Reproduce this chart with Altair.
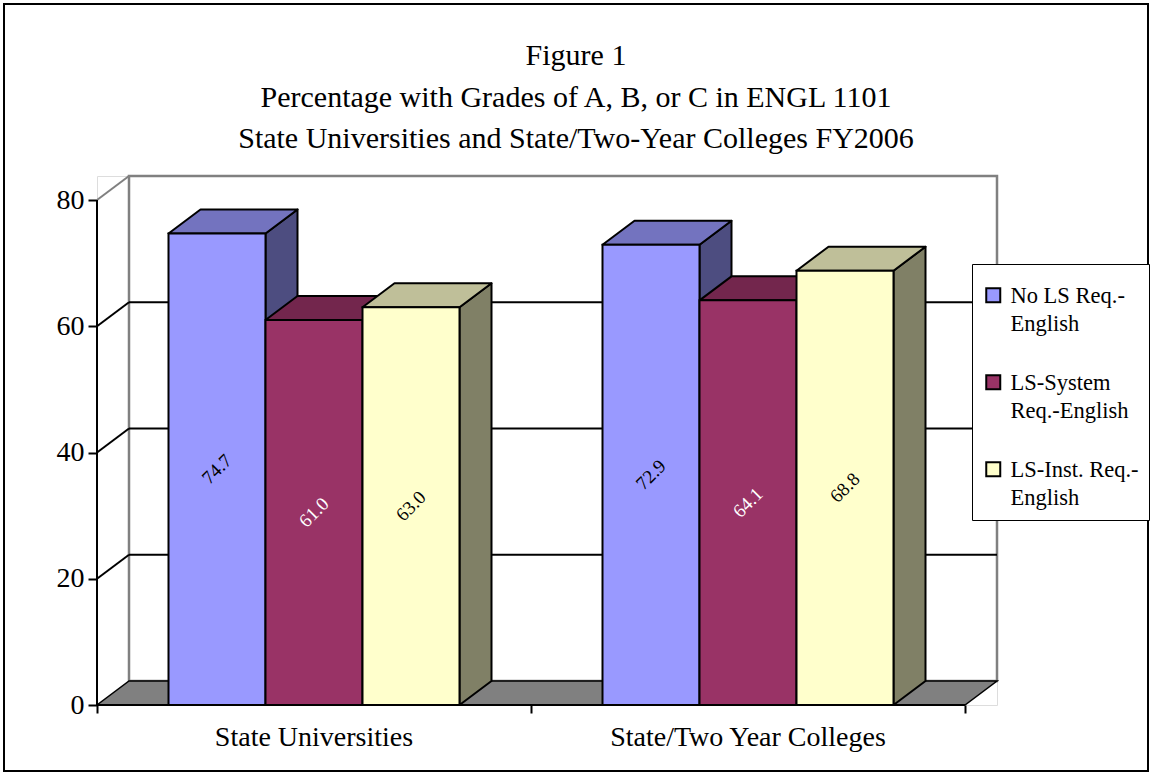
import altair as alt
import pandas as pd

# ---------------- data ----------------
categories = ["State Universities", "State/Two Year Colleges"]
series = ["No LS Req.-English", "LS-System Req.-English", "LS-Inst. Req.-English"]
legend_lines = [["No LS Req.-", "English"], ["LS-System", "Req.-English"], ["LS-Inst. Req.-", "English"]]
values_no_ls = [74.7, 72.9]
values_ls_system = [61.0, 64.1]
values_ls_inst = [63.0, 68.8]
y_ticks = [0, 20, 40, 60, 80]
y_max = 80

title_lines = [
    "Figure 1",
    "Percentage with Grades of A, B, or C in ENGL 1101",
    "State Universities and State/Two-Year Colleges FY2006",
]

# ---------------- styling ----------------
front_colors = ["#9999FF", "#993366", "#FFFFCC"]
top_colors = ["#7373BF", "#73264D", "#BFBF99"]
side_colors = ["#4D4D80", "#4D1A33", "#808066"]
label_colors = ["black", "white", "black"]
FONT = "Liberation Serif"

PX_PER_CAT = 434.0
PX_PER_UNIT = 6.3125
DEPTH_X = 32 / PX_PER_CAT        # 3-D depth, in category units
DEPTH_Y = 24 / PX_PER_UNIT       # 3-D depth, in value units
BAR_W = 97 / PX_PER_CAT
n_cat = len(categories)

x_dom = [0, n_cat + DEPTH_X]
y_dom = [0, y_max + DEPTH_Y]
W = round(x_dom[1] * PX_PER_CAT)
H = round(y_dom[1] * PX_PER_UNIT)

xs = alt.Scale(domain=x_dom, nice=False, zero=False)
ys = alt.Scale(domain=y_dom, nice=False, zero=False)

AX = alt.Axis(values=list(range(n_cat + 1)), labels=False, ticks=True, tickSize=8,
              tickWidth=2, tickColor="black", domain=False, grid=False, title=None)
AY = alt.Axis(values=y_ticks, ticks=True, tickSize=9, tickWidth=2, tickColor="black",
              domain=False, grid=False, title=None, labelFont=FONT, labelFontSize=28,
              labelColor="black", labelPadding=4)

all_values = [values_no_ls, values_ls_system, values_ls_inst]
legend_names = ["\n".join(l) for l in legend_lines]

# ---------------- derived tables ----------------
fronts, tops, sides, labels = [], [], [], []
for i, cat in enumerate(categories):
    start = i + 0.5 - 1.5 * BAR_W
    for j, s in enumerate(series):
        v = all_values[j][i]
        x0 = start + j * BAR_W
        x1 = x0 + BAR_W
        fid = f"{i}-{j}"
        fronts.append({"x0": x0, "x1": x1, "y0": 0, "y1": v, "series": legend_names[j]})
        for (xx, a, b) in [(x0, v, v), (x0 + DEPTH_X, v, v + DEPTH_Y),
                           (x1, v, v + DEPTH_Y), (x1 + DEPTH_X, v + DEPTH_Y, v + DEPTH_Y)]:
            tops.append({"face": fid, "x": xx, "y": a, "y2": b, "fill": top_colors[j]})
        for (xx, a, b) in [(x1, 0, v), (x1 + DEPTH_X, DEPTH_Y, v + DEPTH_Y)]:
            sides.append({"face": fid, "x": xx, "y": a, "y2": b, "fill": side_colors[j]})
        labels.append({"x": (x0 + x1) / 2, "y": v / 2, "text": f"{v:.1f}", "fill": label_colors[j]})

floor = pd.DataFrame([
    {"face": "floor", "x": 0, "y": 0, "y2": 0},
    {"face": "floor", "x": DEPTH_X, "y": 0, "y2": DEPTH_Y},
    {"face": "floor", "x": n_cat, "y": 0, "y2": DEPTH_Y},
    {"face": "floor", "x": n_cat + DEPTH_X, "y": DEPTH_Y, "y2": DEPTH_Y},
])

wall = pd.DataFrame([{"x": DEPTH_X, "x2": n_cat + DEPTH_X, "y": DEPTH_Y, "y2": y_max + DEPTH_Y}])

black_rules = []
gray_rules = []
for t in y_ticks[1:-1]:
    black_rules.append({"x": 0, "x2": DEPTH_X, "y": t, "y2": t + DEPTH_Y})
    black_rules.append({"x": DEPTH_X, "x2": n_cat + DEPTH_X, "y": t + DEPTH_Y, "y2": t + DEPTH_Y})
gray_rules.append({"x": 0, "x2": DEPTH_X, "y": y_max, "y2": y_max + DEPTH_Y})
front_axis = [
    {"x": 0, "x2": 0, "y": 0, "y2": y_max},
    {"x": 0, "x2": n_cat, "y": 0, "y2": 0},
]

cat_labels = pd.DataFrame([{"x": i + 0.5, "y": 0, "text": c} for i, c in enumerate(categories)])

# ---------------- layers ----------------
def rule_layer(rows, color):
    return alt.Chart(pd.DataFrame(rows)).mark_rule(color=color, strokeWidth=2).encode(
        x=alt.X("x:Q", scale=xs, axis=AX), x2="x2:Q",
        y=alt.Y("y:Q", scale=ys, axis=AY), y2="y2:Q")

wall_layer = alt.Chart(wall).mark_rect(fill="white", stroke="#808080", strokeWidth=2.5).encode(
    x=alt.X("x:Q", scale=xs, axis=AX), x2="x2:Q",
    y=alt.Y("y:Q", scale=ys, axis=AY), y2="y2:Q")

floor_layer = alt.Chart(floor).mark_area(fill="#808080", stroke="black", strokeWidth=1.5).encode(
    x=alt.X("x:Q", scale=xs, axis=AX),
    y=alt.Y("y:Q", scale=ys, axis=AY, stack=None), y2="y2:Q",
    detail="face:N")

side_layer = alt.Chart(pd.DataFrame(sides)).mark_area(stroke="black", strokeWidth=2, strokeJoin="round").encode(
    x=alt.X("x:Q", scale=xs, axis=AX),
    y=alt.Y("y:Q", scale=ys, axis=AY, stack=None), y2="y2:Q",
    fill=alt.Fill("fill:N", scale=None, legend=None),
    detail="face:N")

top_layer = alt.Chart(pd.DataFrame(tops)).mark_area(stroke="black", strokeWidth=2, strokeJoin="round").encode(
    x=alt.X("x:Q", scale=xs, axis=AX),
    y=alt.Y("y:Q", scale=ys, axis=AY, stack=None), y2="y2:Q",
    fill=alt.Fill("fill:N", scale=None, legend=None),
    detail="face:N")

front_layer = alt.Chart(pd.DataFrame(fronts)).mark_rect(stroke="black", strokeWidth=2).encode(
    x=alt.X("x0:Q", scale=xs, axis=AX),
    x2="x1:Q",
    y=alt.Y("y0:Q", scale=ys, axis=AY),
    y2="y1:Q",
    color=alt.Color("series:N", scale=alt.Scale(domain=legend_names, range=front_colors),
                    legend=alt.Legend(
                        title=None,
                        orient="none", legendX=875, legendY=88,
                        symbolType="M-1,0.43H1V2.43H-1Z", symbolSize=196,
                        symbolStrokeColor="black", symbolStrokeWidth=2,
                        labelFont=FONT, labelFontSize=22.5,
                        labelColor="black", labelLimit=300, labelOffset=6,
                        labelExpr="split(datum.label, '\\n')", labelBaseline="top",
                        rowPadding=25, padding=10, fillColor="white",
                        strokeColor="black")),
)

bar_text = alt.Chart(pd.DataFrame(labels)).mark_text(angle=315, font=FONT, fontSize=19).encode(
    x=alt.X("x:Q", scale=xs, axis=AX),
    y=alt.Y("y:Q", scale=ys, axis=AY),
    text="text:N",
    fill=alt.Fill("fill:N", scale=None, legend=None))

cat_text = alt.Chart(cat_labels).mark_text(font=FONT, fontSize=28, dy=33, color="black").encode(
    x=alt.X("x:Q", scale=xs, axis=AX),
    y=alt.Y("y:Q", scale=ys, axis=AY),
    text="text:N")

title_layer = alt.Chart(pd.DataFrame({"a": [0]})).mark_text(
    text=title_lines, font=FONT, fontSize=30, lineHeight=41.5, align="center",
    baseline="alphabetic", color="black").encode(
    x=alt.value(479), y=alt.value(-111))

frame = alt.Chart(pd.DataFrame({"a": [0]})).mark_rect(
    filled=False, stroke="black", strokeWidth=2).encode(
    x=alt.value(-93), x2=alt.value(1051), y=alt.value(-172), y2=alt.value(595))

chart = alt.layer(
    wall_layer,
    rule_layer(black_rules, "black"),
    rule_layer(gray_rules, "#808080"),
    floor_layer,
    side_layer,
    top_layer,
    front_layer,
    rule_layer(front_axis, "black"),
    bar_text,
    cat_text,
    title_layer,
    frame,
).properties(
    width=W, height=H,
    autosize=alt.AutoSizeParams(type="none"),
    padding={"left": 97, "top": 176, "right": 1153 - 97 - W, "bottom": 776 - 176 - H},
).configure_view(stroke=None).configure_legend(strokeWidth=2).configure(
    background="white",
    style={"guide-label": {"lineHeight": 28}},
)

chart.save("out.html", embed_options={"renderer": "svg", "actions": False})
